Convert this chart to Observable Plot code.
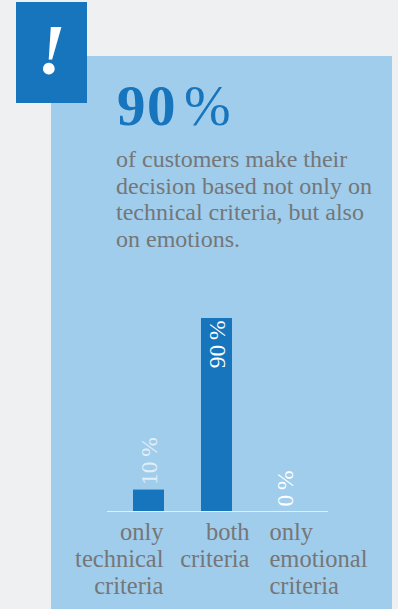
<!DOCTYPE html>
<html>
<head>
<meta charset="utf-8">
<script src="https://cdn.jsdelivr.net/npm/d3@7"></script>
<script src="https://cdn.jsdelivr.net/npm/@observablehq/plot@0.6"></script>
<style>
  html, body { margin: 0; padding: 0; background: #eff0f2; }
  #page { position: relative; width: 398px; height: 609px; overflow: hidden; font-family: "Liberation Serif", serif; }
  #panel { position: absolute; left: 51px; top: 56px; width: 341px; height: 553px; background: #a0cdeb; }
  #badge { position: absolute; left: 16px; top: 0; width: 71px; height: 103px; padding-top: 2px; box-sizing: border-box; background: #1775bd; color: #fff;
           font-size: 72px; font-style: italic; font-weight: bold; text-align: center; line-height: 97px; background-clip: content-box; }
  #headline { position: absolute; left: 117px; top: 75px; margin: 0; color: #1775bd; font-size: 57px; letter-spacing: 1.5px; line-height: 62px; font-weight: bold; white-space: nowrap; }
  #headline span { font-weight: normal; font-size: 56px; letter-spacing: 0; margin-left: 7px; }
  #lede { position: absolute; left: 116px; top: 146px; margin: 0; color: #757678; font-size: 24px; line-height: 26.7px; white-space: pre; }
  #chart { position: absolute; left: 0; top: 0; }
</style>
</head>
<body>
<div id="page">
  <div id="panel"></div>
  <div id="badge">!</div>
  <h1 id="headline">90<span>%</span></h1>
  <p id="lede">of customers make their
decision based not only on
technical criteria, but also
on emotions.</p>
  <div id="chart"></div>
</div>
<script>
const categories = ["technical", "both", "emotional"];
const shares = [10, 90, 0];
const axisLabels = ["only\ntechnical\ncriteria", "both\ncriteria", "only\nemotional\ncriteria"];
const axisLabelShift = [14.5, 32.5, -15.5];

const rows = categories.map((category, i) => ({category, share: shares[i], label: axisLabels[i], shift: axisLabelShift[i]}));
const serif = "Liberation Serif";

// Value labels stand on the bar unless the bar is tall enough to hold them.
const valueLabel = (data, color, textAnchor, dy) => Plot.text(data, {
  x: "category", y: "share", text: d => `${d.share}\u2009%`, rotate: -90,
  textAnchor, dy, fill: color, fontSize: 23.5, fontFamily: serif
});

// Category captions are set flush against their own edge, one mark per shift.
const caption = (row, textAnchor) => Plot.text([row], {
  x: "category", y: 0, text: "label", textAnchor, lineAnchor: "top",
  dx: row.shift, dy: 9, lineHeight: 1.1, fill: "#757678", fontSize: 24.5, fontFamily: serif
});

const chart = Plot.plot({
  width: 398, height: 609,
  marginLeft: 107, marginRight: 70, marginTop: 318, marginBottom: 98,
  style: {background: "transparent"},
  x: {domain: categories, range: [96, 337], padding: 0.544, axis: null},
  y: {domain: [0, 90], axis: null},
  marks: [
    Plot.barY(rows, {x: "category", y: "share", fill: "#1775bd"}),
    Plot.ruleY([0], {stroke: "#e3eff8", strokeWidth: 1.2}),
    valueLabel(rows.filter(d => d.share === 10), "#e3eff8", "start", -5),
    valueLabel(rows.filter(d => d.share === 90), "#ffffff", "end", 2),
    valueLabel(rows.filter(d => d.share === 0), "#ffffff", "start", -5),
    caption(rows[0], "end"),
    caption(rows[1], "end"),
    caption(rows[2], "start")
  ]
});
document.getElementById("chart").append(chart);
</script>
</body>
</html>
